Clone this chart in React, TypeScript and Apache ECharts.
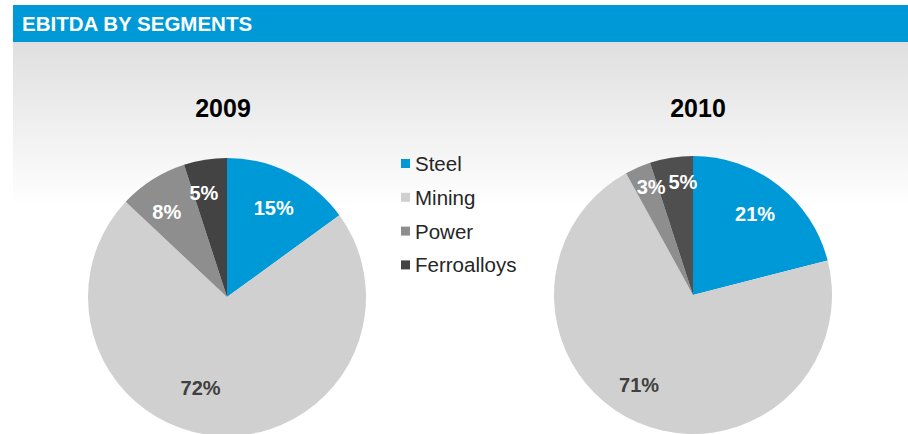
import React, { useEffect, useRef } from "react";
import * as echarts from "echarts";

const categories = ["Steel", "Mining", "Power", "Ferroalloys"];
const years = ["2009", "2010"];
const values2009 = [15, 72, 8, 5];
const values2010 = [21, 71, 3, 5];
const headerTitle = "EBITDA BY SEGMENTS";

const colors = ["#0099d8", "#d0d0d0", "#8e8e8e", "#434343"];
const ferroRight = "#4f4f4f";
const FONT = "'Liberation Sans', Arial, sans-serif";

// label nudges (style only), per pie, per slice
const labelNudges = [
  [[0, 3], [-20, -12], [-5, 2], [-7, -2]],
  [[-1, 0], [-13, -5], [-1, -13], [6, -11]],
];

export default function App() {
  const ref = useRef<HTMLDivElement>(null);
  useEffect(() => {
    if (!ref.current) return;
    const chart = echarts.init(ref.current, null, { renderer: "svg" });
    const centers = [
      ["227", "297"],
      ["693", "295"],
    ];
    const mkData = (vals: number[], idx: number) =>
      vals.map((v, i) => ({
        name: categories[i],
        value: v,
        itemStyle: { color: idx === 1 && i === 3 ? ferroRight : colors[i] },
      }));
    const mkLabelData = (vals: number[], idx: number) =>
      vals.map((v, i) => ({
        name: categories[i],
        value: v,
        label: {
          color: i === 1 ? "#404040" : "#ffffff",
          offset: labelNudges[idx][i],
        },
      }));
    const series: any[] = [];
    [values2009, values2010].forEach((vals, idx) => {
      series.push({
        type: "pie",
        name: years[idx],
        center: centers[idx],
        radius: [0, 139],
        startAngle: 90,
        clockwise: true,
        data: mkData(vals, idx),
        label: { show: false },
        labelLine: { show: false },
        silent: true,
        itemStyle: { borderWidth: 0 },
      });
      series.push({
        type: "pie",
        name: years[idx] + " labels",
        center: centers[idx],
        radius: [0, 200],
        startAngle: 90,
        clockwise: true,
        avoidLabelOverlap: false,
        labelLayout: { hideOverlap: false },
        data: mkLabelData(vals, idx),
        itemStyle: { color: "rgba(0,0,0,0)", borderWidth: 0 },
        label: {
          show: true,
          position: "inside",
          formatter: "{c}%",
          fontFamily: FONT,
          fontWeight: "bold",
          fontSize: 20,
        },
        labelLine: { show: false },
        silent: true,
        legendHoverLink: false,
      });
    });
    chart.setOption({
      animation: false,
      graphic: [
        {
          type: "rect",
          z: -10,
          shape: { x: 13, y: 42, width: 895, height: 392 },
          style: {
            fill: new echarts.graphic.LinearGradient(0, 0, 0, 1, [
              { offset: 0, color: "#dfdfdf" },
              { offset: 0.42, color: "#ffffff" },
              { offset: 1, color: "#ffffff" },
            ]),
          },
          silent: true,
        },
        {
          type: "rect",
          shape: { x: 13, y: 5, width: 895, height: 37 },
          style: { fill: "#0099d8" },
          silent: true,
        },
        {
          type: "text",
          x: 22,
          y: 23.5,
          style: {
            text: headerTitle,
            fill: "#ffffff",
            font: `bold 20.5px ${FONT}`,
            verticalAlign: "middle",
          },
          silent: true,
        },
      ],
      title: [
        {
          text: years[0],
          left: 218,
          top: 90,
          textAlign: "center",
          textStyle: { fontFamily: FONT, fontWeight: "bold", fontSize: 25, color: "#000" },
        },
        {
          text: years[1],
          left: 693,
          top: 90,
          textAlign: "center",
          textStyle: { fontFamily: FONT, fontWeight: "bold", fontSize: 25, color: "#000" },
        },
      ],
      legend: {
        orient: "vertical",
        left: 401,
        top: 153,
        padding: 0,
        data: categories,
        icon: "rect",
        itemWidth: 9,
        itemHeight: 9,
        itemGap: 12.8,
        selectedMode: false,
        textStyle: { fontFamily: FONT, fontSize: 20.5, color: "#262626" },
      },
      series,
    });
    return () => chart.dispose();
  }, []);
  return (
    <div
      ref={ref}
      style={{ position: "fixed", left: 0, top: 0, width: 908, height: 434, background: "#fff" }}
    />
  );
}
